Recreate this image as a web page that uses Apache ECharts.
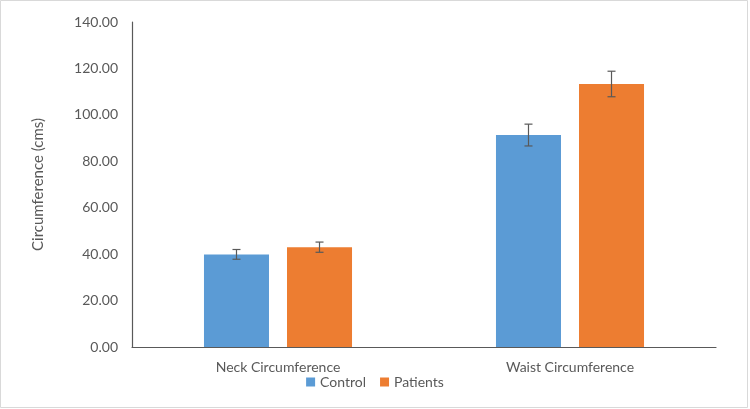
<!DOCTYPE html>
<html>
<head>
<meta charset="utf-8">
<script src="https://cdn.jsdelivr.net/npm/echarts@6/dist/echarts.min.js"></script>
<style>
html,body{margin:0;padding:0;background:#fff;}
#chart{width:750px;height:409px;}
</style>
</head>
<body>
<div id="chart"></div>
<script>
const categories = ['Neck Circumference', 'Waist Circumference'];
const seriesNames = ['Control', 'Patients'];
const controlValues = [39.9, 91.3];
const patientsValues = [43.0, 113.3];
const controlErrors = [2.1, 4.7];
const patientsErrors = [2.2, 5.5];
const yTicks = [0, 20, 40, 60, 80, 100, 120, 140];

const FONT = 'Lato';
const TEXT = '#595959';
const CAT_GAP = 0.493;
const BAR_GAP = 0.277;

function errorSeries(values, errors, sideIndex) {
  const data = values.map((v, i) => [i, v - errors[i], v + errors[i]]);
  return {
    type: 'custom',
    name: seriesNames[sideIndex] + ' error',
    z: 10,
    silent: true,
    renderItem: function (params, api) {
      const idx = api.value(0);
      const band = api.size([1, 0])[0];
      const total = band * (1 - CAT_GAP);
      const w = total / (2 + BAR_GAP);
      const off = (sideIndex === 0 ? -1 : 1) * (w / 2 + BAR_GAP * w / 2);
      const lo = api.coord([idx, api.value(1)]);
      const hi = api.coord([idx, api.value(2)]);
      const x = lo[0] + off;
      const cap = 4;
      const style = { stroke: '#595959', lineWidth: 1.2 };
      return {
        type: 'group',
        children: [
          { type: 'line', shape: { x1: x, y1: lo[1], x2: x, y2: hi[1] }, style: style },
          { type: 'line', shape: { x1: x - cap, y1: lo[1], x2: x + cap, y2: lo[1] }, style: style },
          { type: 'line', shape: { x1: x - cap, y1: hi[1], x2: x + cap, y2: hi[1] }, style: style }
        ]
      };
    },
    encode: { x: 0, y: [1, 2] },
    data: data
  };
}

const chart = echarts.init(document.getElementById('chart'));
chart.setOption({
  animation: false,
  backgroundColor: '#fff',
  textStyle: { fontFamily: FONT },
  graphic: [{
    type: 'rect',
    shape: { x: 0.5, y: 0.5, width: 747, height: 407 },
    style: { fill: 'none', stroke: '#d9d9d9', lineWidth: 1 },
    silent: true
  }],
  grid: { left: 132, right: 34, top: 22, bottom: 62 },
  legend: {
    data: seriesNames,
    bottom: 15,
    left: 'center',
    itemWidth: 9,
    itemHeight: 9,
    itemGap: 14,
    icon: 'rect',
    textStyle: { color: TEXT, fontSize: 14, fontFamily: FONT }
  },
  xAxis: {
    type: 'category',
    data: categories,
    axisLine: { lineStyle: { color: '#595959', width: 1.2 } },
    axisTick: { show: false },
    axisLabel: { color: TEXT, fontSize: 14, fontFamily: FONT, margin: 13 }
  },
  yAxis: {
    type: 'value',
    min: yTicks[0],
    max: yTicks[yTicks.length - 1],
    interval: 20,
    name: 'Circumference (cms)',
    nameLocation: 'middle',
    nameGap: 86,
    nameTextStyle: { color: TEXT, fontSize: 15, fontFamily: FONT },
    axisLine: { show: true, lineStyle: { color: '#595959', width: 1.2 } },
    axisTick: { show: false },
    splitLine: { show: false },
    axisLabel: {
      color: TEXT, fontSize: 14, fontFamily: FONT, margin: 14,
      formatter: v => v.toFixed(2)
    }
  },
  series: [
    {
      name: seriesNames[0], type: 'bar', data: controlValues,
      itemStyle: { color: '#5b9bd5' },
      barGap: (BAR_GAP * 100) + '%', barCategoryGap: (CAT_GAP * 100) + '%'
    },
    {
      name: seriesNames[1], type: 'bar', data: patientsValues,
      itemStyle: { color: '#ed7d31' },
      barGap: (BAR_GAP * 100) + '%', barCategoryGap: (CAT_GAP * 100) + '%'
    },
    errorSeries(controlValues, controlErrors, 0),
    errorSeries(patientsValues, patientsErrors, 1)
  ]
});
</script>
</body>
</html>
